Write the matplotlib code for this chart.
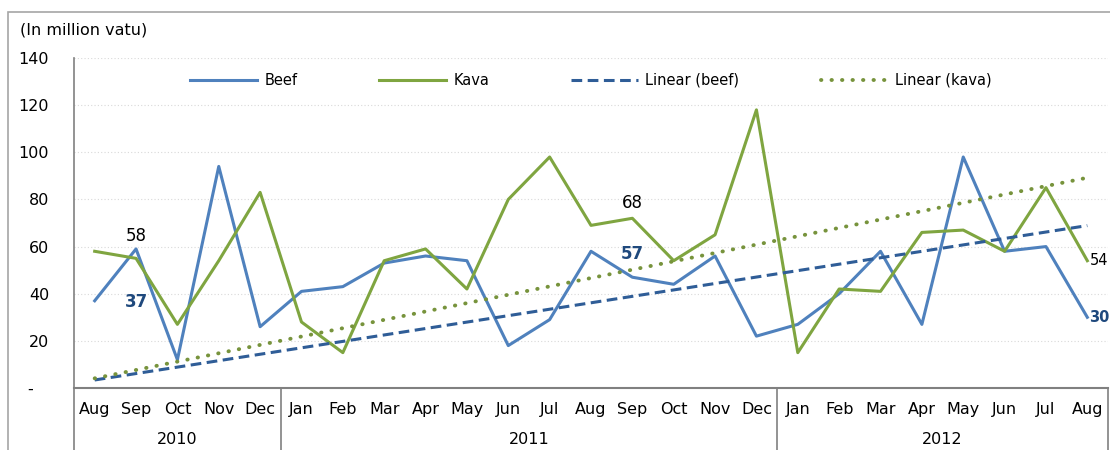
import numpy as np
import matplotlib.pyplot as plt
from matplotlib.lines import Line2D
from matplotlib.patches import Rectangle

## meses de ago/2010 a ago/2012
months = ['Aug', 'Sep', 'Oct', 'Nov', 'Dec',
          'Jan', 'Feb', 'Mar', 'Apr', 'May', 'Jun', 'Jul', 'Aug', 'Sep', 'Oct', 'Nov', 'Dec',
          'Jan', 'Feb', 'Mar', 'Apr', 'May', 'Jun', 'Jul', 'Aug']
years = ['2010', '2011', '2012']
year_counts = [5, 12, 8]

## exportações (milhões de vatu)
beef = [37, 59, 12, 94, 26, 41, 43, 53, 56, 54, 18, 29, 58, 47, 44, 56, 22,
        27, 40, 58, 27, 98, 58, 60, 30]
kava = [58, 55, 27, 54, 83, 28, 15, 54, 59, 42, 80, 98, 69, 72, 54, 65, 118,
        15, 42, 41, 66, 67, 58, 85, 54]

## tendências lineares (valor inicial e final)
beef_trend = [3.4, 68.9]
kava_trend = [4.1, 89.2]

c_beef = '#4F81BD'
c_kava = '#7FA540'
c_btrend = '#2F5D97'
c_ktrend = '#77933C'

plt.rcParams['font.family'] = ['DejaVu Sans']

fig = plt.figure(figsize=(11.10, 4.50), dpi=100)
# moldura externa do gráfico
fig.patches.append(Rectangle((8 / 1110, -0.1), 1.2, (450 - 12) / 450 + 0.1,
                             transform=fig.transFigure, fill=False,
                             edgecolor='#A6A6A6', lw=1.2))

ax = fig.add_axes([74 / 1110, 62 / 450, (1108 - 74) / 1110, 330 / 450])
x = np.arange(len(months))

ax.plot(x, beef, color=c_beef, lw=2.2, label='Beef')
ax.plot(x, kava, color=c_kava, lw=2.2, label='Kava')
ax.plot([x[0], x[-1]], beef_trend, color=c_btrend, lw=2.2, ls=(0, (3.5, 1.8)), label='Linear (beef)')
ax.plot([x[0], x[-1]], kava_trend, color=c_ktrend, lw=2.8, ls=(0, (0.1, 2.6)),
        dash_capstyle='round', label='Linear (kava)')

ax.set_xlim(-0.5, len(months) - 0.5)
ax.set_ylim(0, 140)
ax.set_yticks(range(0, 141, 20))
ax.set_yticklabels(['-   '] + [str(v) for v in range(20, 141, 20)], fontsize=11.5)
ax.yaxis.grid(True, color='#D9D9D9', ls=(0, (1, 2)), lw=0.8)
ax.set_axisbelow(True)
ax.tick_params(axis='y', length=0, pad=18)

ax.set_xticks(x)
ax.set_xticklabels(months, fontsize=11.5)
ax.tick_params(axis='x', length=0, pad=10)

for s in ['top', 'right']:
    ax.spines[s].set_visible(False)
ax.spines['left'].set_color('#808080')
ax.spines['bottom'].set_color('#808080')
ax.spines['left'].set_linewidth(1.2)
ax.spines['bottom'].set_linewidth(1.5)

## separadores dos anos
edges = np.cumsum([0] + year_counts) - 0.5
for e in edges:
    ax.add_line(Line2D([e, e], [0, -0.25], transform=ax.get_xaxis_transform(),
                       color='#808080', lw=1.2, clip_on=False))
for i, yr in enumerate(years):
    ax.text((edges[i] + edges[i + 1]) / 2, -0.155, yr, transform=ax.get_xaxis_transform(),
            ha='center', va='center', fontsize=11.5)

## rótulos de valores
ax.text(1, 64.5, '58', ha='center', va='center', fontsize=12)
ax.text(1, 36.5, '37', ha='center', va='center', fontsize=12, fontweight='bold', color='#1F497D')
ax.text(13, 78.5, '68', ha='center', va='center', fontsize=12)
ax.text(13, 57, '57', ha='center', va='center', fontsize=12, fontweight='bold', color='#1F497D')
ax.text(24.05, kava[-1], '54', ha='left', va='center', fontsize=10.5, clip_on=False)
ax.text(24.05, beef[-1], '30', ha='left', va='center', fontsize=10.5, fontweight='bold',
        color='#1F497D', clip_on=False)

fig.text(20 / 1110, 1 - 30 / 450, '(In million vatu)', fontsize=11.5, va='center')

ax.legend(loc='center', bbox_to_anchor=(0.5, 0.933), ncol=4, frameon=False,
          fontsize=10.5, handlelength=4.6, handletextpad=0.5, columnspacing=5.6)

plt.savefig('out.png', dpi=100)
